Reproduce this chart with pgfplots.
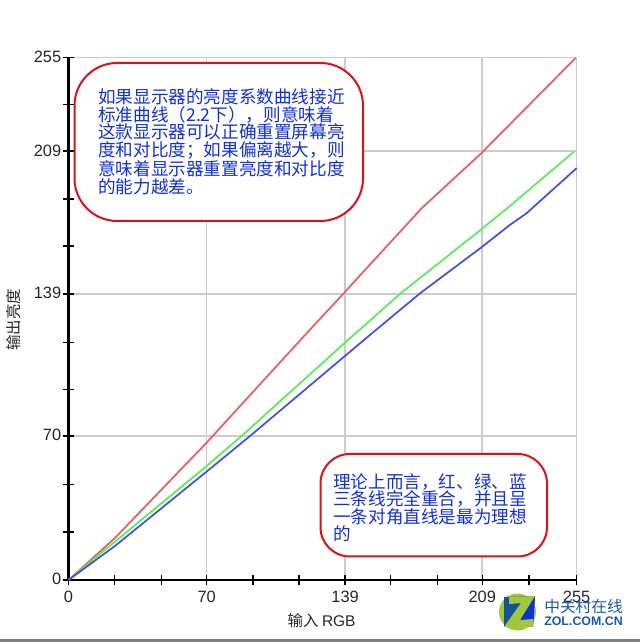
\documentclass[border=0pt]{standalone}
\usepackage{fontspec}
\setmainfont{Liberation Sans}
\newfontfamily\cjk{Noto Sans CJK SC}
\usepackage{pgfplots}
\pgfplotsset{compat=1.18}

\definecolor{gridgray}{HTML}{CCCCCC}
\definecolor{redline}{HTML}{EE5A60}
\definecolor{greenline}{HTML}{55EE55}
\definecolor{blueline}{HTML}{4450E0}
\definecolor{boxred}{HTML}{E01018}
\definecolor{notetext}{HTML}{1230D8}
\definecolor{zolblue}{HTML}{1A5AA8}
\definecolor{zollime}{HTML}{A0C83C}

\begin{document}
\begin{tikzpicture}
\useasboundingbox (0,0) rectangle (480pt,481.5pt);
\begin{axis}[
    at={(51.4pt,46.5pt)}, anchor=south west,
    scale only axis,
    width=381.1pt, height=391.9pt,
    xmin=0, xmax=255, ymin=0, ymax=255,
    clip=false,
    axis lines=left,
    axis line style={-, black},
    x axis line style={line width=1.1pt},
    y axis line style={line width=1.6pt},
    xtick={0,69.3,138.8,207.6,255},
    xticklabels={0,70,139,209,255},
    ytick={0,70.3,139.6,209.3,255},
    yticklabels={0,70,139,209,255},
    minor xtick={23,46.5,92.6,115.7,161.6,185,231},
    minor ytick={23.5,46.7,93,116,163,186,232},
    grid=major,
    grid style={gridgray, line width=1.1pt},
    tick align=center,
    xtick align=center, ytick align=center,
    major tick length=8pt, minor tick length=8pt,
    tick style={black, line width=1pt},
    minor tick style={black, line width=1pt},
    /pgf/number format/assume math mode=true,
    tick label style={font=\fontsize{12.3}{14}\selectfont, text=black!85},
    xticklabel style={yshift=-0.8pt},
    yticklabel style={xshift=2pt, yshift=0.5pt},
    xlabel={\cjk 输入\ \rmfamily RGB},
    ylabel={\cjk 输出亮度},
    every axis x label/.style={at={(axis description cs:0.498,-0.0785)}, anchor=center, font=\fontsize{11.6}{13}\selectfont, text=black!85},
    every axis y label/.style={at={(axis description cs:-0.109,0.498)}, anchor=center, rotate=90, font=\fontsize{11.6}{13}\selectfont, text=black!85},
    every axis plot/.append style={line width=1.3pt, line join=round, no marks},
]
\addplot[redline] coordinates {
(0,0) (23.3,20.5) (69.3,67) (80,78.4) (121,122) (138.2,140) (143.8,146)
(177.2,181.4) (207.3,208.4) (254.5,254.8)};
\addplot[greenline] coordinates {
(0,0) (23.3,18.7) (69.3,55.6) (86.9,70.3) (138.7,115.8) (151.3,126.6)
(166.3,139.6) (207.3,171.2) (221.5,182.5) (253.6,209)};
\addplot[blueline] coordinates {
(0,0) (23.3,16.6) (69.3,52.9) (91,70.2) (138.7,109.3) (151.3,119.6)
(176.4,139.9) (207.3,162.4) (221.5,173.3) (229.9,179) (255,201)};
\end{axis}

% annotations and logo, in reference pixels from the top left corner
\begin{scope}[x=0.75pt, y=-0.75pt, yshift=481.5pt]
\fill[black!50] (0,639.5) rectangle (640,642);
\draw[boxred, line width=1.5pt, fill=white, rounded corners=32pt] (74.5,63) rectangle (363,221);
\node[anchor=north west, inner sep=0pt, align=left, text=notetext,
      font=\cjk\fontsize{13.2}{13.2}\selectfont] at (98,88.5) {如果显示器的亮度系数曲线接近\\标准曲线（2.2下），则意味着\\这款显示器可以正确重置屏幕亮\\度和对比度；如果偏离越大，则\\意味着显示器重置亮度和对比度\\的能力越差。};
\draw[boxred, line width=1.5pt, fill=white, rounded corners=22pt] (320.5,454) rectangle (547,556.5);
\node[anchor=north west, inner sep=0pt, align=left, text=notetext,
      font=\cjk\fontsize{13.2}{13.2}\selectfont] at (333,473) {理论上而言，红、绿、蓝\\三条线完全重合，并且呈\\一条对角直线是最为理想\\的};
% ZOL logo
\fill[zollime] (517.5,612) circle[radius=18.5];
\fill[zolblue!90!black] (504,597) -- (535,596) -- (533,627) -- (504,627) -- cycle;
\fill[blue!45!zolblue] (535,596) -- (533,627) -- (513,627) -- cycle;
\fill[zollime] (509,597) -- (535,596) -- (520,620) -- (533,619) -- (533,627) -- (504,627) -- (521,603) -- (509,604) -- cycle;
\node[anchor=west, inner sep=0pt, text=zolblue, font=\cjk\fontsize{11.8}{12}\selectfont] at (544,606.5) {中关村在线};
\node[anchor=west, inner sep=0pt, text=zolblue, font=\bfseries\fontsize{9.3}{10}\selectfont] at (544,621) {ZOL.COM.CN};
\end{scope}
\end{tikzpicture}
\end{document}
